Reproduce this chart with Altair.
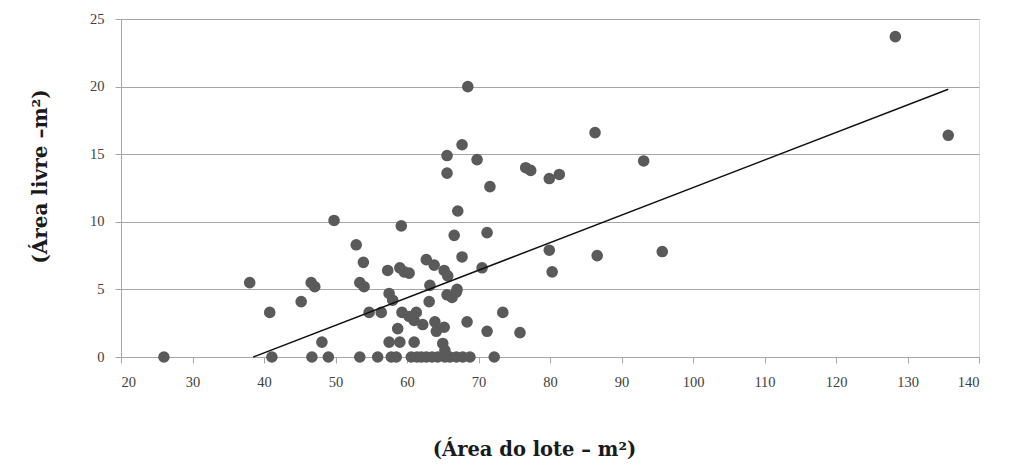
import altair as alt
import pandas as pd

# Scatter points (Área do lote, Área livre)
lote = [26, 38, 40.8, 41.1, 45.2, 46.6, 47.1, 46.7, 48.1, 49, 49.8, 52.9, 53.4, 53.4, 54, 53.9,
        54.7, 55.9, 56.4, 57.3, 57.5, 57.5, 57.8, 58.5, 58, 58.7, 59, 59.6, 59.2, 59, 59.3, 60.3,
        60.3, 61, 61.3, 61, 60.6, 61.4, 62, 62.7, 62.2, 62.7, 63.1, 63.2, 63.5, 64.3, 63.8, 63.9,
        64.1, 65.2, 65.2, 65.0, 65.3, 65.3, 66, 65.6, 65.6, 65.6, 65.7, 66.3, 66.9, 66.6, 66.9,
        67.1, 67, 67.7, 67.7, 68.4, 67.8, 68.8, 68.5, 69.8, 70.5, 71.2, 71.2, 71.6, 72.2, 73.4,
        75.8, 76.6, 77.3, 79.9, 81.3, 79.9, 80.3, 86.3, 86.6, 93.1, 95.7, 128.3, 135.7]
livre = [0, 5.5, 3.3, 0, 4.1, 5.5, 5.2, 0, 1.1, 0, 10.1, 8.3, 0, 5.5, 5.2, 7.0,
         3.3, 0, 3.3, 6.4, 4.7, 1.1, 0, 0, 4.2, 2.1, 6.6, 6.3, 9.7, 1.1, 3.3, 6.2,
         3.0, 2.7, 3.3, 1.1, 0, 0, 0, 0, 2.4, 7.2, 4.1, 5.3, 0, 0, 6.8, 2.6,
         1.9, 6.4, 2.2, 1.0, 0.5, 0, 0, 14.9, 13.6, 4.6, 6.0, 4.4, 4.8, 9.0, 0,
         10.8, 5.0, 15.7, 7.4, 2.6, 0, 0, 20.0, 14.6, 6.6, 9.2, 1.9, 12.6, 0, 3.3,
         1.8, 14.0, 13.8, 13.2, 13.5, 7.9, 6.3, 16.6, 7.5, 14.5, 7.8, 23.7, 16.4]

# Linear trend line endpoints
trend_x = [38.5, 135.7]
trend_y = [0, 19.8]

x_ticks = [20, 30, 40, 50, 60, 70, 80, 90, 100, 110, 120, 130, 140]
y_ticks = [0, 5, 10, 15, 20, 25]

pts = pd.DataFrame({"lote": lote, "livre": livre})
trend = pd.DataFrame({"lote": trend_x, "livre": trend_y})

FONT = "Liberation Serif"
TFONT = "DejaVu Serif"

x_enc = alt.X("lote:Q", scale=alt.Scale(domain=[20, 140], nice=False),
              axis=alt.Axis(values=x_ticks, title="(Área do lote – m²)", grid=False,
                            domainColor="#a6a6a6", tickColor="#a6a6a6", tickSize=6,
                            labelFont=FONT, labelFontSize=14.5, labelColor="#404040",
                            labelPadding=12,
                            titleFont=TFONT, titleFontSize=19.5, titleFontWeight="bold",
                            titleColor="#1a1a1a", titleX=413, titleY=92,
                            titleBaseline="middle", titleAlign="center"))
y_enc = alt.Y("livre:Q", scale=alt.Scale(domain=[0, 25], nice=False),
              axis=alt.Axis(values=y_ticks, title="(Área livre –m²)", grid=True,
                            gridColor="#a6a6a6", gridWidth=1.2,
                            domainColor="#a6a6a6", tickColor="#a6a6a6", tickSize=6,
                            labelFont=FONT, labelFontSize=14.5, labelColor="#404040",
                            labelPadding=11,
                            titleFont=TFONT, titleFontSize=20, titleFontWeight="bold",
                            titleColor="#1a1a1a", titleX=-81, titleY=157,
                            titleAngle=-90, titleBaseline="middle", titleAlign="center"))

points = alt.Chart(pts).mark_circle(size=135, color="#5a5a5a", opacity=1).encode(x=x_enc, y=y_enc)
line = alt.Chart(trend).mark_line(color="#111111", strokeWidth=1.5).encode(x="lote:Q", y="livre:Q")

chart = alt.layer(points, line).properties(
    width=858, height=338,
    padding={"left": 113, "top": 11, "right": 24, "bottom": 104},
    autosize=alt.AutoSizeParams(type="none"),
).configure_view(stroke=None).configure(background="white")

chart.save("out.html", embed_options={"renderer": "svg", "actions": False})
